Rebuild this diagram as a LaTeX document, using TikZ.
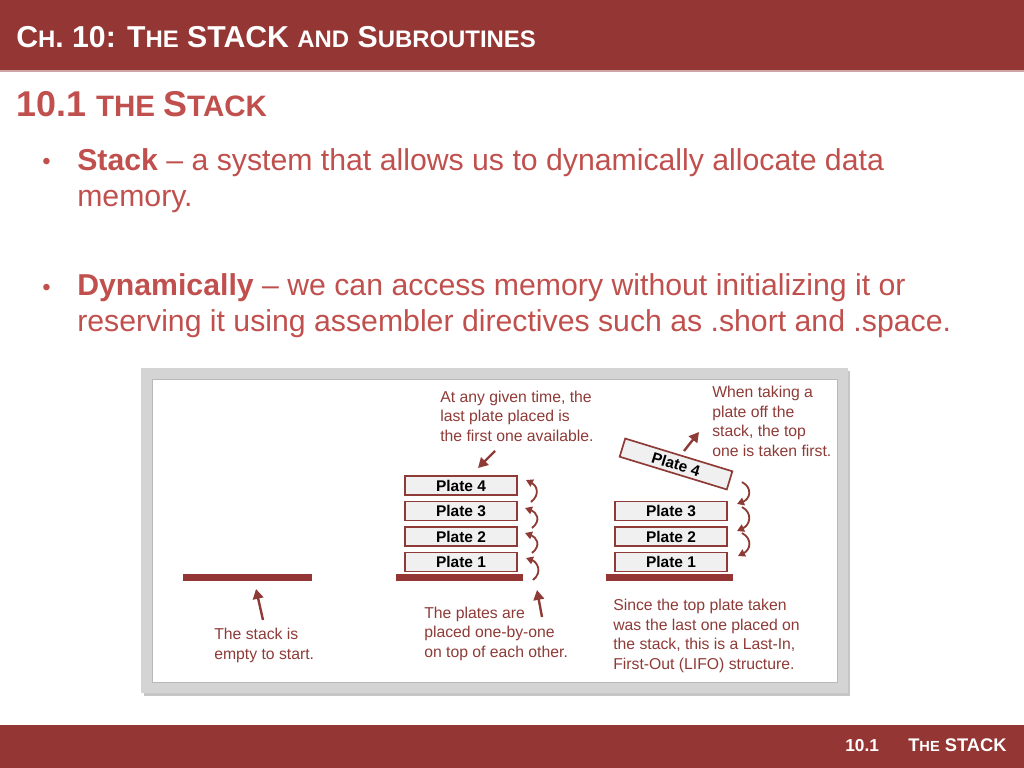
\documentclass[tikz,border=0pt]{standalone}
\usepackage{fontspec}
\setmainfont{Liberation Sans}
\usetikzlibrary{arrows.meta}

\definecolor{hdrred}{HTML}{943634}
\definecolor{txtred}{HTML}{C0504D}
\definecolor{dgmred}{HTML}{8E3B37}
\definecolor{framegray}{HTML}{D4D4D4}

% fake small caps at a given size
\newcommand{\fsc}[2]{{\fontsize{#1}{#1}\selectfont #2}}

\begin{document}
\begin{tikzpicture}[x=0.025cm,y=-0.025cm,
  plate/.style={draw=dgmred, fill=gray!12, line width=1.2pt, minimum width=2.8cm, minimum height=0.475cm, inner sep=0pt, font=\fontsize{11pt}{12pt}\selectfont\bfseries},
  note/.style={text=dgmred, align=left, anchor=base west, inner sep=0pt, font=\fontsize{11.2pt}{13.8pt}\selectfont},
  bullettext/.style={text=txtred, align=left, anchor=base west, inner sep=0pt, font=\fontsize{21.5pt}{25.5pt}\selectfont},
  bulletdot/.style={text=txtred, anchor=base west, inner sep=0pt, font=\fontsize{17pt}{17pt}\selectfont},
  stackbar/.style={fill=hdrred, inner sep=0pt, minimum height=0.175cm},
  bigarrow/.style={draw=dgmred, line width=1.7pt, -{Triangle[length=7pt,width=7.5pt]}},
  curlarrow/.style={draw=dgmred, line width=1.3pt, -{Triangle[length=5pt,width=5.5pt]}}]

\useasboundingbox (0,0) rectangle (1024,768);

% header and footer bars
\fill[hdrred] (0,0) rectangle (1024,70);
\fill[hdrred!45] (0,70) rectangle (1024,72);
\fill[hdrred] (0,725) rectangle (1024,768);

\node[anchor=base west, inner sep=0pt, text=white, font=\fontsize{21.5pt}{21.5pt}\selectfont\bfseries] (title) at (16,48)
  {C\fsc{17pt}{H}. 10: T\fsc{17pt}{HE} STACK \fsc{17pt}{AND} S\fsc{17pt}{UBROUTINES}};
\node[anchor=base west, inner sep=0pt, text=txtred, font=\fontsize{25.5pt}{25.5pt}\selectfont\bfseries] (subtitle) at (16,117)
  {10.1 \fsc{21pt}{THE }S\fsc{21pt}{TACK}};

% bullets (base = last line)
\node[bulletdot] (dot1) at (42,170) {•};
\node[bullettext] (item1) at (77,206) {\textbf{Stack} – a system that allows us to dynamically allocate data\\memory.};
\node[bulletdot] (dot2) at (42,295) {•};
\node[bullettext] (item2) at (77,331) {\textbf{Dynamically} – we can access memory without initializing it or\\reserving it using assembler directives such as .short and .space.};

% picture frame
\fill[gray!45] (144,371) rectangle (850,696);
\fill[framegray] (141,368) rectangle (848,693);
\fill[white] (152,379) rectangle (837,682);
\draw[gray!55, line width=0.5pt] (152,379) rectangle (837,682);

% stack bases
\node[stackbar, minimum width=3.225cm] (bar0) at (247.5,577.5) {};
\node[stackbar, minimum width=3.175cm] (bar1) at (459.5,577.5) {};
\node[stackbar, minimum width=3.175cm] (bar2) at (669.5,577.5) {};

% middle stack
\node[plate] (m4) at (461,485.5) {Plate 4};
\node[plate] (m3) at (461,511) {Plate 3};
\node[plate] (m2) at (461,536.5) {Plate 2};
\node[plate] (m1) at (461,562) {Plate 1};

% right stack
\node[plate, rotate=-17] (r4) at (676,464) {Plate 4};
\node[plate] (r3) at (671,511) {Plate 3};
\node[plate] (r2) at (671,536.5) {Plate 2};
\node[plate] (r1) at (671,562) {Plate 1};

% notes (base = last line)
\node[note] (empty) at (214,659) {The stack is\\empty to start.};
\node[note] (placed) at (424,657) {The plates are\\placed one-by-one\\on top of each other.};
\node[note] (avail) at (440,441) {At any given time, the\\last plate placed is\\the first one available.};
\node[note] (taking) at (712,456) {When taking a\\plate off the\\stack, the top\\one is taken first.};
\node[note] (lifo) at (613,669) {Since the top plate taken\\was the last one placed on\\the stack, this is a Last-In,\\First-Out (LIFO) structure.};

% straight arrows
\coordinate (e1) at (263,620); \coordinate (e2) at (256,589);
\coordinate (p1) at (542,617); \coordinate (p2) at (537,590);
\coordinate (a1) at (495,451); \coordinate (a2) at (478,468);
\coordinate (t1) at (684,451); \coordinate (t2) at (699,432);
\draw[bigarrow] (e1) -- (e2);
\draw[bigarrow] (p1) -- (p2);
\draw[bigarrow] (a1) -- (a2);
\draw[bigarrow] (t1) -- (t2);

% pushing plates
\draw[curlarrow] (533,580) .. controls (543,572) and (537,562) .. (526,558);
\draw[curlarrow] (532,553) .. controls (542,545) and (536,537) .. (525,533);
\draw[curlarrow] (532,528) .. controls (542,520) and (536,512) .. (525,508);
\draw[curlarrow] (531,502) .. controls (541,494) and (536,485) .. (526,480);

% popping plates
\draw[curlarrow] (742,482) .. controls (753,488) and (750,499) .. (737,504);
\draw[curlarrow] (742,507) .. controls (753,513) and (750,525) .. (737,531);
\draw[curlarrow] (742,533) .. controls (753,539) and (750,550) .. (738,556);

% footer text
\node[anchor=base west, inner sep=0pt, text=white, font=\fontsize{12.3pt}{12.3pt}\selectfont\bfseries] (ftnum) at (845,751) {10.1};
\node[anchor=base west, inner sep=0pt, text=white, font=\fontsize{13pt}{13pt}\selectfont\bfseries] (fttitle) at (908,751) {T\fsc{10.4pt}{HE} STACK};
\end{tikzpicture}
\end{document}
